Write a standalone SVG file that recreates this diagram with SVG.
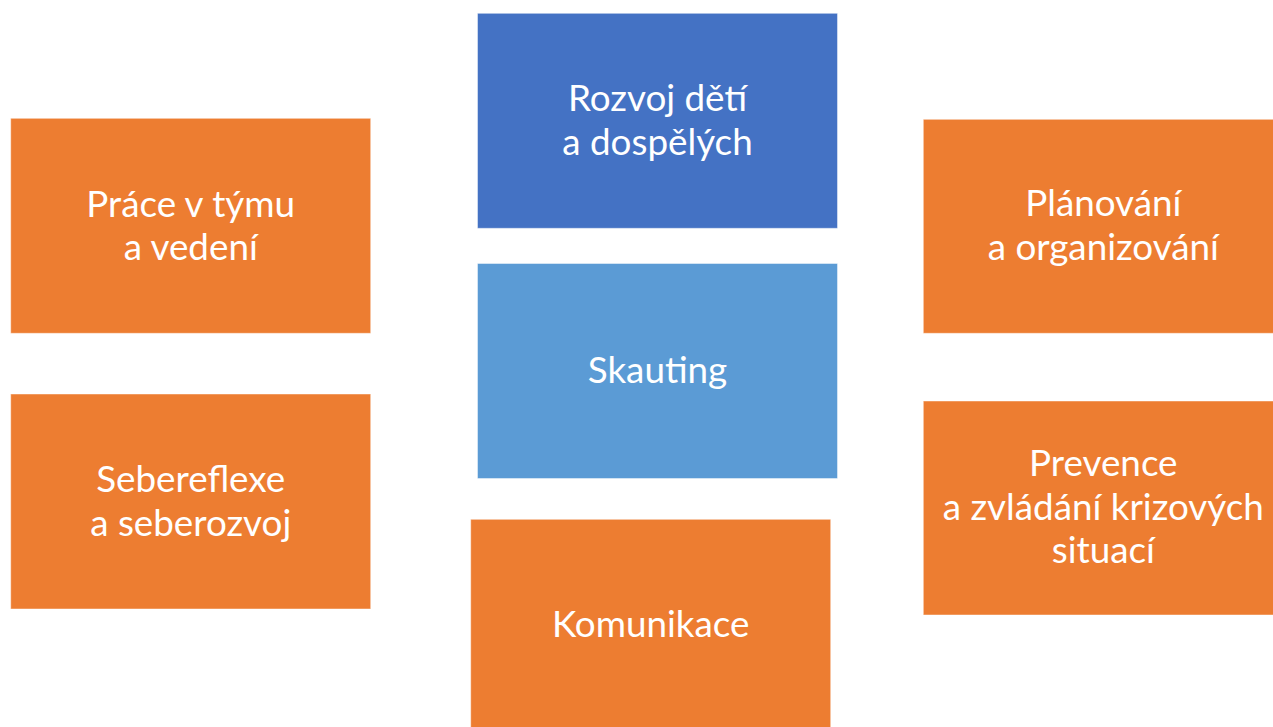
<svg xmlns="http://www.w3.org/2000/svg" width="1273" height="727" viewBox="0 0 1273 727">
<style>
.box{stroke:#ffffff;stroke-opacity:0.45;stroke-width:1}
.orange{fill:#ED7D31}
.dark{fill:#4472C4}
.light{fill:#5B9BD5}
.lbl{font-family:Lato,"Open Sans","Liberation Sans",sans-serif;font-size:36.8px;fill:#ffffff;text-anchor:middle}
</style>
<rect width="1273" height="727" fill="#ffffff"/>
<g id="connectors"></g>
<g id="node-rozvoj">
<rect class="box dark" x="477.5" y="13.3" width="360" height="215"/>
<text class="lbl" x="657.5" y="111">Rozvoj dětí</text>
<text class="lbl" x="657.5" y="154.5">a dospělých</text>
</g>
<g id="node-skauting">
<rect class="box light" x="477.5" y="263.5" width="360" height="215"/>
<text class="lbl" x="657.5" y="383">Skauting</text>
</g>
<g id="node-komunikace">
<rect class="box orange" x="470.7" y="519.3" width="360" height="215"/>
<text class="lbl" x="650.7" y="637">Komunikace</text>
</g>
<g id="node-prace">
<rect class="box orange" x="10.7" y="118.3" width="360" height="215"/>
<text class="lbl" x="190.7" y="216.5">Práce v týmu</text>
<text class="lbl" x="190.7" y="260">a vedení</text>
</g>
<g id="node-sebereflexe">
<rect class="box orange" x="10.7" y="394" width="360" height="215"/>
<text class="lbl" x="190.7" y="492">Sebereflexe</text>
<text class="lbl" x="190.7" y="535.5">a seberozvoj</text>
</g>
<g id="node-planovani">
<rect class="box orange" x="923.3" y="119.3" width="360" height="214"/>
<text class="lbl" x="1103.3" y="216">Plánování</text>
<text class="lbl" x="1103.3" y="259.5">a organizování</text>
</g>
<g id="node-prevence">
<rect class="box orange" x="923.3" y="401" width="360" height="214"/>
<text class="lbl" x="1103.3" y="476">Prevence</text>
<text class="lbl" x="1103.3" y="519.5">a zvládání krizových</text>
<text class="lbl" x="1103.3" y="563">situací</text>
</g>
</svg>
